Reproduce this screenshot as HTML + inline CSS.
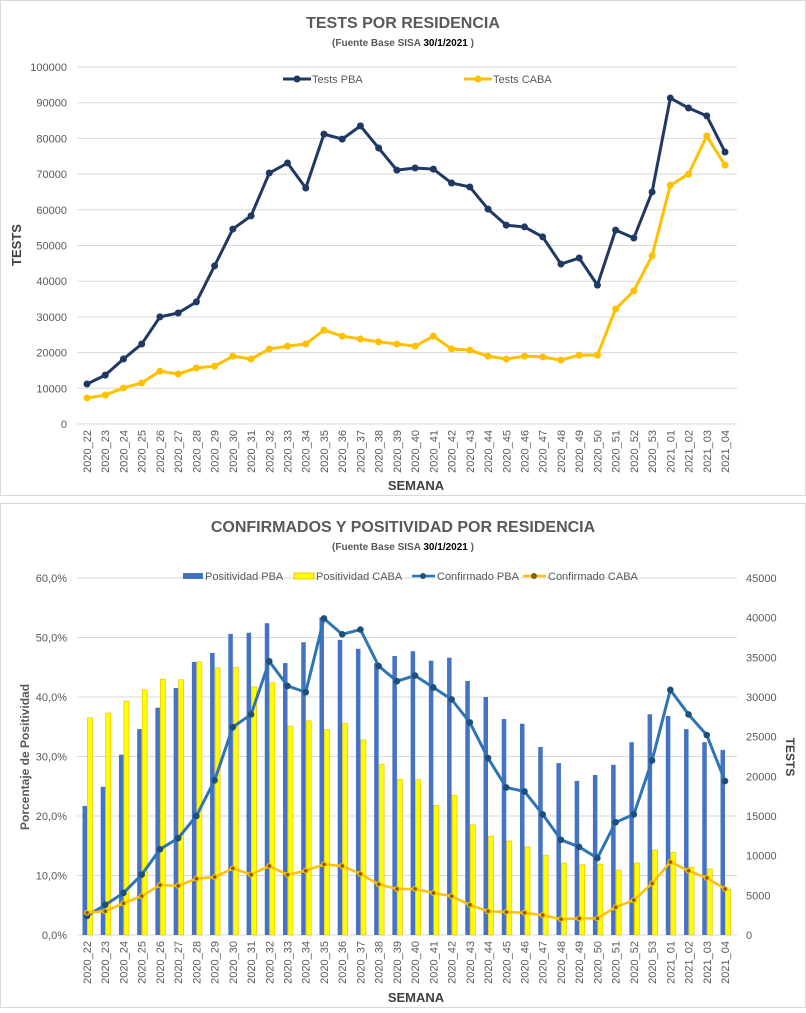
<!DOCTYPE html>
<html><head><meta charset="utf-8">
<style>
body{margin:0;background:#fff;width:806px;height:1008px;overflow:hidden;font-family:"Liberation Sans",sans-serif;}
svg text{font-family:"Liberation Sans",sans-serif;}
</style></head>
<body>
<svg id="s" width="806" height="1008" xmlns="http://www.w3.org/2000/svg">
<rect x="0.5" y="0.5" width="805" height="495" fill="#fff" stroke="#d9d9d9"/>
<rect x="0.5" y="503.5" width="805" height="504" fill="#fff" stroke="#d9d9d9"/>
<text x="403" y="28" text-anchor="middle" font-size="16" font-weight="bold" fill="#595959">TESTS POR RESIDENCIA</text>
<text x="403" y="46" text-anchor="middle" font-size="10" font-weight="bold" fill="#595959">(Fuente Base SISA  <tspan fill="#000">30/1/2021</tspan> )</text>
<text x="403" y="532" text-anchor="middle" font-size="16" font-weight="bold" fill="#595959">CONFIRMADOS Y POSITIVIDAD POR RESIDENCIA</text>
<text x="403" y="550" text-anchor="middle" font-size="10" font-weight="bold" fill="#595959">(Fuente Base SISA  <tspan fill="#000">30/1/2021</tspan> )</text>
<g id="g1"></g><g id="g2"></g>
</svg>
<script>
const categories=["2020_22","2020_23","2020_24","2020_25","2020_26","2020_27","2020_28","2020_29","2020_30","2020_31","2020_32","2020_33","2020_34","2020_35","2020_36","2020_37","2020_38","2020_39","2020_40","2020_41","2020_42","2020_43","2020_44","2020_45","2020_46","2020_47","2020_48","2020_49","2020_50","2020_51","2020_52","2020_53","2021_01","2021_02","2021_03","2021_04"];
const testsPBA=[11200,13700,18200,22400,30000,31100,34200,44300,54600,58300,70300,73100,66100,81200,79800,83500,77300,71100,71700,71400,67500,66400,60200,55700,55200,52400,44800,46500,38900,54300,52100,65000,91300,88500,86300,76200];
const testsCABA=[7300,8100,10100,11500,14800,14000,15700,16200,19000,18200,21000,21800,22400,26300,24600,23800,23000,22400,21800,24600,21000,20700,19000,18200,19000,18800,17900,19300,19300,32200,37300,47100,66900,70000,80700,72500];
const testsTicks=[0,10000,20000,30000,40000,50000,60000,70000,80000,90000,100000];
const posPBA=[21.7,24.9,30.3,34.6,38.2,41.5,45.9,47.4,50.6,50.8,52.4,45.7,49.2,53.4,49.6,48.1,45.7,46.9,47.7,46.1,46.6,42.7,40.0,36.3,35.5,31.6,28.9,25.9,26.9,28.6,32.4,37.1,36.8,34.6,32.4,31.1];
const posCABA=[36.5,37.3,39.3,41.2,43.0,42.9,45.9,44.9,45.0,41.7,42.4,35.1,36.0,34.5,35.6,32.8,28.7,26.2,26.1,21.8,23.5,18.5,16.6,15.8,14.8,13.4,12.1,11.8,11.9,10.9,12.1,14.3,13.9,11.4,11.1,7.7];
const confPBA=[2400,3800,5300,7600,10800,12200,15000,19500,26200,27800,34500,31400,30600,39900,37900,38500,33900,32000,32700,31200,29700,26800,22300,18600,18100,15200,12000,11100,9700,14200,15200,22000,30900,27800,25200,19400];
const confCABA=[2800,3000,4000,4900,6300,6200,7100,7300,8400,7600,8700,7600,8100,8900,8700,7700,6400,5800,5800,5300,4900,3800,3000,2900,2800,2500,2000,2100,2100,3500,4400,6500,9200,8100,7200,5800];
const pctTicks=[0,10,20,30,40,50,60];
const rightTicks=[0,5000,10000,15000,20000,25000,30000,35000,40000,45000];

const NS="http://www.w3.org/2000/svg";
function mk(parent,tag,attrs,txt){const e=document.createElementNS(NS,tag);for(const k in attrs)e.setAttribute(k,attrs[k]);if(txt!==undefined)e.textContent=txt;parent.appendChild(e);return e;}
const xs=i=>87+i*(725-87)/(categories.length-1);

// Chart 1
const g1=document.getElementById('g1');
const y1=v=>424-v*(424-67)/100000;
testsTicks.forEach(t=>{
  const l=mk(g1,'line',{x1:77,x2:737,y1:y1(t),y2:y1(t),stroke:'#d9d9d9','stroke-width':1});
  
  
  const tx=mk(g1,'text',{x:67,y:y1(t)+4,'text-anchor':'end','font-size':11,fill:'#595959'},String(t));
  
  
});
categories.forEach((c,i)=>{
  const tx=mk(g1,'text',{transform:`translate(${xs(i)+4},430) rotate(-90)`,'text-anchor':'end','font-size':11,fill:'#595959'},c);
  
  
});
function series(g,vals,yf,color,w,r,name,mc){
  const p=mk(g,'polyline',{points:vals.map((v,i)=>xs(i)+','+yf(v)).join(' '),fill:'none',stroke:color,'stroke-width':w,'stroke-linejoin':'round'});
  
  
  vals.forEach((v,i)=>{const c=mk(g,'circle',{cx:xs(i),cy:yf(v),r:r,fill:mc||color});
    
    });
}
series(g1,testsCABA,y1,'#ffc000',3,3.5,'tests-caba');
series(g1,testsPBA,y1,'#1f3864',3,3.5,'tests-pba');
let t=mk(g1,'text',{transform:'translate(21,245) rotate(-90)','text-anchor':'middle','font-size':13,'font-weight':'bold',fill:'#404040'},'TESTS');

t=mk(g1,'text',{x:416,y:490,'text-anchor':'middle','font-size':13,'font-weight':'bold',fill:'#404040'},'SEMANA');

// legend 1
[[283,'#1f3864','Tests PBA'],[464,'#ffc000','Tests CABA']].forEach(([x,c,l])=>{
  const g=mk(g1,'g',{});
  
  mk(g,'line',{x1:x,x2:x+28,y1:79,y2:79,stroke:c,'stroke-width':3});
  mk(g,'circle',{cx:x+14,cy:79,r:3.5,fill:c});
  mk(g,'text',{x:x+29,y:83,'font-size':11,fill:'#595959'},l);
});

// Chart 2
const g2=document.getElementById('g2');
const yl=v=>935-v*(935-578)/60;
const yr=v=>935-v*(935-578)/45000;
pctTicks.forEach(p=>{
  const l=mk(g2,'line',{x1:77,x2:737,y1:yl(p),y2:yl(p),stroke:'#d9d9d9','stroke-width':1});
  
  const tx=mk(g2,'text',{x:67,y:yl(p)+4,'text-anchor':'end','font-size':11,fill:'#595959'},p.toFixed(1).replace('.',',')+'%');
  
});
rightTicks.forEach(v=>{
  const tx=mk(g2,'text',{x:746,y:yr(v)+4,'font-size':11,fill:'#595959'},String(v));
  
});
categories.forEach((c,i)=>{
  const b=mk(g2,'rect',{x:xs(i)-4.5,y:yl(posPBA[i]),width:4.5,height:935-yl(posPBA[i]),fill:'#4472c4'});
  
  const b2=mk(g2,'rect',{x:xs(i)+0.5,y:yl(posCABA[i]),width:5,height:935-yl(posCABA[i]),fill:'#ffff00',stroke:'#f0c000','stroke-width':0.7});
  
  const tx=mk(g2,'text',{transform:`translate(${xs(i)+4},941) rotate(-90)`,'text-anchor':'end','font-size':11,fill:'#595959'},c);
  
});
series(g2,confPBA,yr,'#2e75b6',3,3.3,'confirmado-pba','#1f4e79');
series(g2,confCABA,yr,'#ffc000',2.5,3,'confirmado-caba');
confCABA.forEach((v,i)=>{mk(g2,'circle',{cx:xs(i),cy:yr(v),r:1.8,fill:'#7f6000'});});
t=mk(g2,'text',{transform:'translate(29,757) rotate(-90)','text-anchor':'middle','font-size':12,'font-weight':'bold',fill:'#595959'},'Porcentaje de Positividad');

t=mk(g2,'text',{transform:'translate(786,757) rotate(90)','text-anchor':'middle','font-size':12,'font-weight':'bold',fill:'#404040'},'TESTS');

t=mk(g2,'text',{x:416,y:1002,'text-anchor':'middle','font-size':13,'font-weight':'bold',fill:'#404040'},'SEMANA');

// legend 2
const lg=[[183,'bar','#4472c4','Positividad PBA'],[294,'bar','#ffff00','Positividad CABA'],[412,'line','#2e75b6','Confirmado PBA'],[523,'line','#ffc000','Confirmado CABA']];
lg.forEach(([x,k,c,l])=>{
  const g=mk(g2,'g',{});
  
  if(k==='bar')mk(g,'rect',{x:x,y:573,width:20,height:6,fill:c,stroke:c==='#ffff00'?'#f0c000':'none'});
  else{mk(g,'line',{x1:x,x2:x+23,y1:576,y2:576,stroke:c,'stroke-width':2.5});mk(g,'circle',{cx:x+11,cy:576,r:3,fill:c==='#ffc000'?'#7f6000':'#1f4e79'});}
  mk(g,'text',{x:x+(k==='bar'?22:25),y:580,'font-size':11,fill:'#595959'},l);
});
</script>
</body></html>
